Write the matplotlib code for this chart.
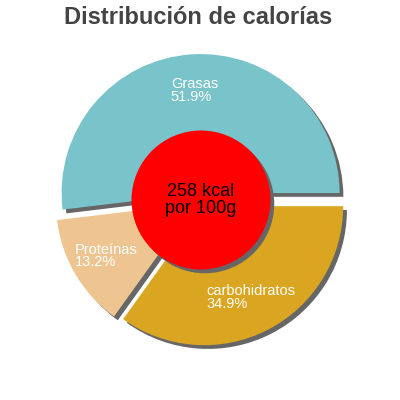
import matplotlib.pyplot as plt
import numpy as np

labels = ["Grasas", "Proteínas", "carbohidratos"]
values = [51.9, 13.2, 34.9]
colors = ["#79c3cb", "#eec591", "#daa520"]
total_kcal = "258 kcal\npor 100g"

plt.rcParams["font.family"] = ["Liberation Sans", "DejaVu Sans"]


def main():
    fig = plt.figure(figsize=(4, 4), dpi=100)
    ax = fig.add_axes([0, 0, 1, 1])

    explode = [0.05] * len(values)
    shadow_off = 0.027

    # shadow pass, shifted right/down, then the real wedges on top
    ax.pie(values, explode=explode, startangle=0, counterclock=True,
           colors=["#666666"] * len(values), center=(shadow_off, -shadow_off),
           wedgeprops=dict(linewidth=0))
    wedges, _ = ax.pie(values, explode=explode, startangle=0, counterclock=True,
                       colors=colors, wedgeprops=dict(linewidth=0))

    for w, lab, v in zip(wedges, labels, values):
        mid = np.deg2rad((w.theta1 + w.theta2) / 2)
        cx, cy = w.center
        x = cx + 0.74 * np.cos(mid)
        y = cy + 0.74 * np.sin(mid)
        ax.text(x, y, f"{lab}\n{v:.1f}%", ha="center", va="center",
                multialignment="left", color="white", fontsize=10.5,
                linespacing=0.88)

    ax.add_patch(plt.Circle((shadow_off, -shadow_off), 0.5, color="#666666", lw=0))
    ax.add_patch(plt.Circle((0, 0), 0.5, color="red", lw=0))
    ax.text(0, 0, total_kcal, ha="center", va="center", fontsize=13,
            color="black", linespacing=0.95)

    ax.set_xlim(-201 / 139, 199 / 139)
    ax.set_ylim(-200 / 139, 200 / 139)
    ax.set_aspect("equal")
    ax.axis("off")

    fig.text(0.495, 0.955, "Distribución de calorías", ha="center", va="center",
             fontsize=17, fontweight="bold", color="#444444")

    fig.savefig("out.png", dpi=100)


if __name__ == "__main__":
    main()
